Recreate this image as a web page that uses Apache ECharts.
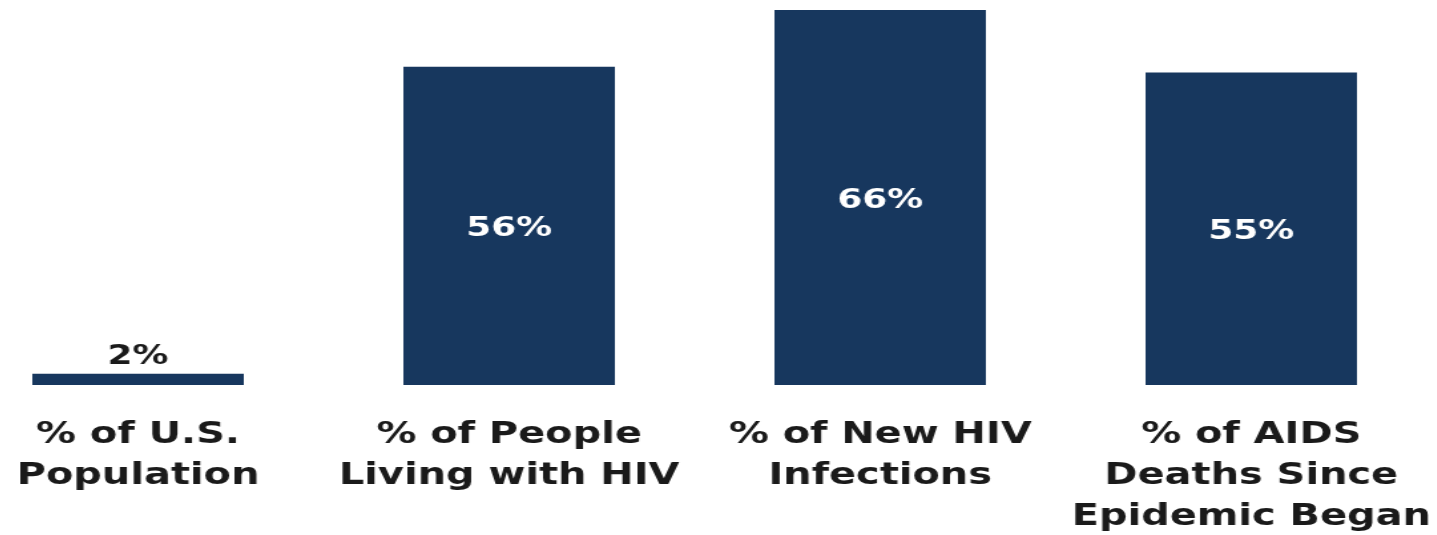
<!DOCTYPE html>
<html>
<head>
<meta charset="utf-8">
<script src="https://cdn.jsdelivr.net/npm/echarts@6/dist/echarts.min.js"></script>
<style>
  html, body { margin: 0; padding: 0; background: #fff; overflow: hidden; }
  #wrap { width: 1437px; height: 535px; overflow: hidden; position: relative; }
  /* the source picture is stretched sideways, so the chart is too */
  #chart {
    width: 1116px;
    height: 535px;
    transform-origin: 0 0;
    transform: translateX(-47.5px) scaleX(1.33);
  }
</style>
</head>
<body>
<div id="wrap"><div id="chart"></div></div>
<script>
var categories = [
  "% of U.S.\nPopulation",
  "% of People\nLiving with HIV",
  "% of New HIV\nInfections",
  "% of AIDS\nDeaths Since\nEpidemic Began"
];
var values = [2, 56, 66, 55];

var chart = echarts.init(document.getElementById("chart"));

var option = {
  animation: false,
  grid: {
    top: 10,
    bottom: 150,
    left: 0,
    right: 0,
    outerBoundsMode: "none"
  },
  xAxis: {
    type: "category",
    data: categories,
    axisLine: { show: false },
    axisTick: { show: false },
    axisLabel: {
      interval: 0,
      margin: 30,
      color: "#1a1a1a",
      fontFamily: "DejaVu Sans",
      fontWeight: "bold",
      fontSize: 30,
      lineHeight: 41
    }
  },
  yAxis: {
    type: "value",
    min: 0,
    max: 66,
    show: false
  },
  series: [
    {
      type: "bar",
      data: values.map(function (v, i) {
        // the small bar keeps its label above it
        if (i === 0) {
          return {
            value: v,
            label: { position: "top", color: "#1a1a1a", distance: 3, offset: [0, 0] }
          };
        }
        return v;
      }),
      barWidth: 159,
      itemStyle: { color: "#17375e" },
      label: {
        show: true,
        position: "inside",
        offset: [0, 3],
        color: "#ffffff",
        fontFamily: "DejaVu Sans",
        fontWeight: "bold",
        fontSize: 27,
        formatter: "{c}%"
      }
    }
  ]
};

chart.setOption(option);
</script>
</body>
</html>
